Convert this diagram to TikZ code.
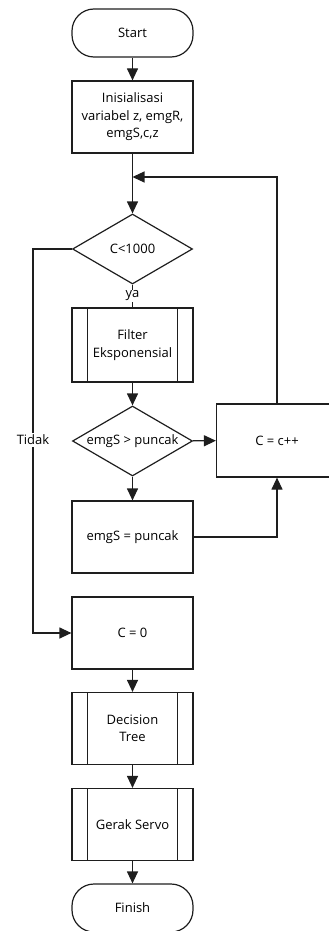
\documentclass[tikz,border=0pt]{standalone}
\usepackage{fontspec}
\setmainfont{Open Sans}
\usetikzlibrary{arrows.meta, shapes.geometric, positioning, calc}
\definecolor{garis}{RGB}{30,30,30}

\begin{document}
\begin{tikzpicture}[x=1pt, y=-1pt, line width=1.2pt, draw=garis,
    font=\fontsize{13}{17.5}\selectfont,
    arr/.style={-{Triangle[length=12pt, width=11pt]}},
    term/.style={draw, rounded corners=22pt, minimum width=121pt, minimum height=48pt, align=center},
    proc/.style={draw, rectangle, minimum width=121pt, minimum height=72pt, align=center},
    subproc/.style={proc, path picture={
        \draw ([xshift=15.5pt]path picture bounding box.north west) -- ([xshift=15.5pt]path picture bounding box.south west);
        \draw ([xshift=-15.5pt]path picture bounding box.north east) -- ([xshift=-15.5pt]path picture bounding box.south east);}},
    decision/.style={draw, diamond, aspect=1.7, inner sep=0pt, minimum width=120pt, minimum height=70pt, align=center}]
            \useasboundingbox (0,0) rectangle (329,931);
            % Main column
            \node[term] (start) at (132.5,33) {Start};
            \node[proc] (init) at (132.5,117) {Inisialisasi\\variabel z, emgR,\\emgS,c,z};
            \node[decision] (cek) at (132.5,249) {C<1000};
            \node[subproc, minimum height=74pt] (filter) at (132.5,345) {Filter\\Eksponensial};
            \node[decision] (banding) at (132.5,441) {emgS > puncak};
            \node[proc] (simpan) at (132.5,537) {emgS = puncak};
            \node[proc] (nol) at (132.5,633) {C = 0};
            \node[subproc] (tree) at (132.5,728.5) {Decision\\Tree};
            \node[subproc] (servo) at (132.5,824.5) {Gerak Servo};
            \node[term] (finish) at (132.5,908) {Finish};
            % Counter
            \node[proc, minimum height=73pt] (cpp) at (277,440.5) {C = c++};
            \coordinate (balik) at (132.5,177);
            \coordinate (kiri) at (33,633);
            % Connectors
            \draw[arr] (start) -- (init);
            \draw[arr] (init) -- (cek);
            \draw (cek) -- (filter) node[midway, fill=white, inner sep=1pt] {ya};
            \draw[arr] (filter) -- (banding);
            \draw[arr] (banding) -- (cpp);
            \draw[arr] (banding) -- (simpan);
            \draw[arr] (simpan.east) -| (cpp.south);
            \draw[arr] (cpp.north) |- (balik);
            \draw[arr] (cek.west) -| (kiri) -- (nol.west);
            \node[fill=white, inner sep=2pt] (tidak) at (33,440) {Tidak};
            \draw[arr] (nol) -- (tree);
            \draw[arr] (tree) -- (servo);
            \draw[arr] (servo) -- (finish);
        \end{tikzpicture}
\end{document}
